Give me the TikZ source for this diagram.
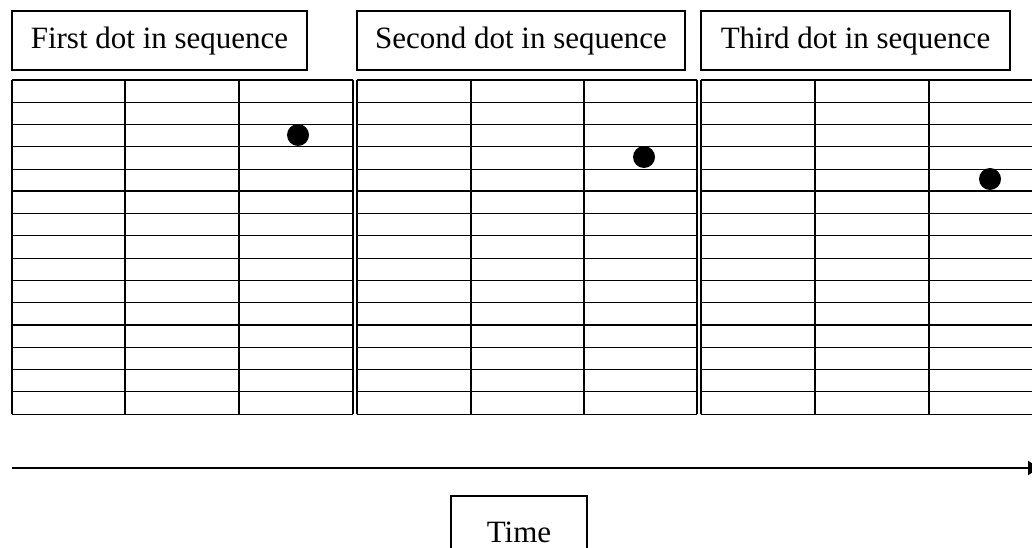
\documentclass[tikz,border=0pt]{standalone}
\usepackage{fontspec}
\setmainfont{Liberation Serif}
\usetikzlibrary{arrows.meta}
\begin{document}
\begin{tikzpicture}[x=1pt,y=-1pt,
  labelbox/.style={draw, line width=1.5pt, inner sep=0pt, anchor=base,
    text height=38pt, text depth=21pt, font=\fontsize{31}{37}\selectfont},
  gridline/.style={line width=1.1pt},
  dot/.style={circle, fill=black, inner sep=0pt, minimum size=22pt},
  timeaxis/.style={line width=2.8pt, -{Triangle[length=11pt,width=14pt]}}]
\useasboundingbox (0,0) rectangle (1032,548);
\clip (0,0) rectangle (1032,548);

% headings over the three panels
\node[labelbox, minimum width=295pt] (h1) at (159.5,49) {First dot in sequence};
\node[labelbox, minimum width=328pt] (h2) at (521,49) {Second dot in sequence};
\node[labelbox, minimum width=309pt] (h3) at (855.5,49) {Third dot in sequence};

% three panels, each 3 columns by 15 rows
\foreach \xl/\xa/\xb/\xr in {12/125/239/353, 357/471/584/697, 701/815/929/1043} {
  \foreach \i in {0,...,15} {
    \pgfmathsetmacro{\yy}{80+\i*22.27}
    \draw[gridline] (\xl,\yy) -- (\xr,\yy);
  }
  \draw[line width=1.8pt] (\xl,191.3) -- (\xr,191.3);
  \draw[gridline] (\xl,80) -- (\xl,414) (\xa,80) -- (\xa,414)
                  (\xb,80) -- (\xb,414) (\xr,80) -- (\xr,414);
}

% the moving dot
\node[dot] (d1) at (298,135) {};
\node[dot] (d2) at (644,157) {};
\node[dot] (d3) at (990,179) {};

% time axis
\coordinate (t0) at (12,468);
\coordinate (t1) at (1039,468);
\draw[timeaxis] (t0) -- (t1);

\node[labelbox, minimum width=136pt, text height=46pt, text depth=16pt] (time) at (519,542) {Time};
\end{tikzpicture}
\end{document}
